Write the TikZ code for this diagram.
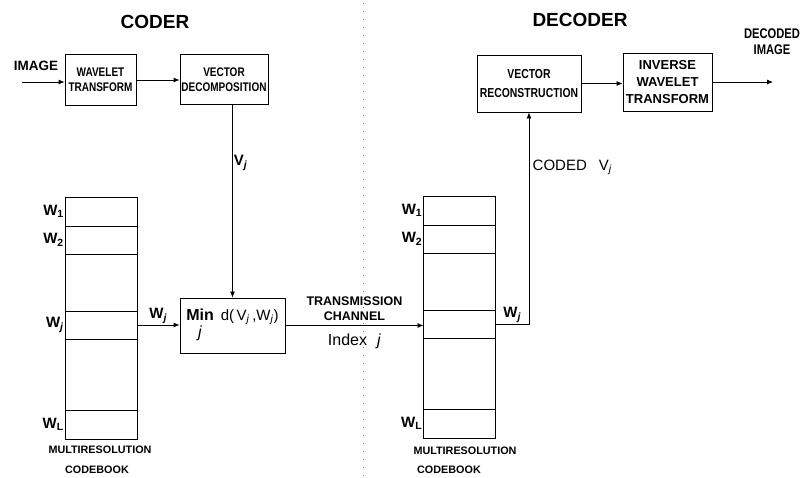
\documentclass[tikz,border=0pt]{standalone}
\usepackage{fontspec}
\setmainfont{Liberation Sans}
\newfontfamily\condfont{Liberation Sans}[FakeStretch=0.8]
\usepackage{tikz}
\usetikzlibrary{arrows.meta,positioning}
\newcommand{\idx}[1]{\textsubscript{#1}}
\newcommand{\jj}{\textit{j}}

\begin{document}
\begin{tikzpicture}[x=1pt, y=-1pt,
      blk/.style={draw, line width=0.8pt, inner sep=1pt, align=center,
                  font=\condfont\fontsize{12.5}{15}\selectfont\bfseries},
      cell/.style={draw, line width=0.7pt, minimum width=72pt,
                   inner sep=0pt, outer sep=0pt},
      wlab/.style={font=\fontsize{15}{15}\selectfont\bfseries, inner sep=1pt},
      ttl/.style={font=\fontsize{19}{19}\selectfont\bfseries},
      cbk/.style={font=\fontsize{10.8}{11}\selectfont\bfseries},
      arr/.style={-{Latex[length=6pt,width=5pt]}, line width=0.8pt}
  ]
    \useasboundingbox (0,0) rectangle (801,477);
    % titles and the split between the two halves
    \node[ttl] (coder) at (155,22) {CODER};
    \node[ttl] (decoder) at (580,20) {DECODER};
    \draw[gray, line width=0.8pt, dash pattern=on 1pt off 7pt] (363,3) -- (363,477);

    % coder
    \node[font=\fontsize{13.5}{14}\selectfont\bfseries] (img) at (36,66) {IMAGE};
    \coordinate (imgin) at (22,82);
    \node[blk, minimum width=71pt, minimum height=51pt] (wt) at (100.5,80) {WAVELET\\TRANSFORM};
    \node[blk, minimum width=88pt, minimum height=50pt] (vd) at (224,79.5) {VECTOR\\DECOMPOSITION};
    \node[blk, minimum width=105pt, minimum height=55pt,
          font=\fontsize{15}{15}\selectfont] (min) at (232.5,325.5)
         {{\fontsize{16}{16}\selectfont\bfseries\begin{tabular}[t]{@{}c@{}}Min\\[1pt]\mdseries\jj\end{tabular}}\hspace{7pt}d(\,V\idx{\jj}\,,W\idx{\jj})};

    \node[cell, minimum height=29pt] (c1) at (101,211.5) {};
    \node[cell, minimum height=28pt, below=0pt of c1] (c2) {};
    \node[cell, minimum height=57pt, below=0pt of c2] (cg1) {};
    \node[cell, minimum height=28pt, below=0pt of cg1] (cj) {};
    \node[cell, minimum height=71pt, below=0pt of cj] (cg2) {};
    \node[cell, minimum height=29pt, below=0pt of cg2] (cl) {};
    \node[wlab, left=0pt of c1] {W\idx{1}};
    \node[wlab, left=0pt of c2] {W\idx{2}};
    \node[wlab, left=0pt of cj] {W\idx{\jj}};
    \node[wlab, left=0pt of cl] {W\idx{L}};
    \node[cbk] (cm1) at (100,450) {MULTIRESOLUTION};
    \node[cbk] (cb1) at (97,470) {CODEBOOK};

    \draw[arr] (imgin) -- (imgin -| wt.west);
    \draw[arr] (wt.east) -- (wt.east -| vd.west);
    \draw[arr] (min.north |- vd.south) -- node[wlab, right, pos=0.3] {V\idx{\jj}} (min.north);
    \draw[arr] (cj.east) -- node[wlab, above] {W\idx{\jj}} (cj.east -| min.west);

    % decoder
    \node[cell, minimum height=29pt] (d1) at (459.5,210.5) {};
    \node[cell, minimum height=28pt, below=0pt of d1] (d2) {};
    \node[cell, minimum height=57pt, below=0pt of d2] (dg1) {};
    \node[cell, minimum height=28pt, below=0pt of dg1] (dj) {};
    \node[cell, minimum height=71pt, below=0pt of dj] (dg2) {};
    \node[cell, minimum height=29pt, below=0pt of dg2] (dl) {};
    \node[wlab, left=0pt of d1] {W\idx{1}};
    \node[wlab, left=0pt of d2] {W\idx{2}};
    \node[wlab, left=0pt of dl] {W\idx{L}};
    \node[cbk] (cm2) at (465,451) {MULTIRESOLUTION};
    \node[cbk] (cb2) at (449,470) {CODEBOOK};

    \node[blk, minimum width=104pt, minimum height=57pt, font=\condfont\fontsize{13}{19}\selectfont\bfseries]
         (vr) at (529,83.5) {VECTOR\\RECONSTRUCTION};
    \node[blk, minimum width=89pt, minimum height=58pt, font=\fontsize{13}{17}\selectfont\bfseries]
         (iwt) at (667.5,82) {INVERSE\\WAVELET\\TRANSFORM};
    \node[font=\condfont\fontsize{14}{16}\selectfont\bfseries, align=center] (decimg) at (772,42) {DECODED\\IMAGE};
    \coordinate (outend) at (773,82);

    \draw[arr] (min.east) -- node[above=1pt, font=\fontsize{12.5}{15}\selectfont\bfseries, align=center]
         {TRANSMISSION\\CHANNEL}
         node[below=5pt, font=\fontsize{16}{16}\selectfont] {Index\hspace{10pt}\jj} (min.east -| dj.west);
    \draw[arr] (dj.east) -| node[wlab, pos=0.25, above] {W\idx{\jj}}
         node[pos=0.87, right, font=\fontsize{15}{15}\selectfont] {CODED\hspace{12pt}V\idx{\jj}} (vr.south);
    \draw[arr] (vr.east) -- (vr.east -| iwt.west);
    \draw[arr] (iwt.east) -- (outend);
  \end{tikzpicture}
\end{document}
